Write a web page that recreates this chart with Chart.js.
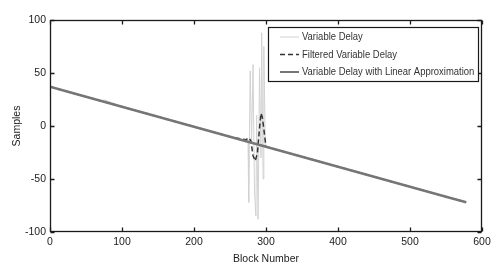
<!DOCTYPE html>
<html>
<head>
<meta charset="utf-8">
<script src="https://cdn.jsdelivr.net/npm/chart.js@4.4.0/dist/chart.umd.min.js"></script>
<style>
  html, body { margin: 0; padding: 0; background: #fff; }
</style>
</head>
<body>
<canvas id="chart" width="502" height="266"></canvas>
<script>
// tick labels
const xTickValues = [0, 100, 200, 300, 400, 500, 600];
const yTickValues = [-100, -50, 0, 50, 100];

// Variable Delay with Linear Approximation
const linBlocks = [0, 25, 50, 75, 100, 125, 150, 175, 200, 225, 250, 275, 300, 325, 350, 375, 400, 425, 450, 475, 500, 525, 550, 578];
const linDelay = [37, 32.3, 27.6, 22.9, 18.1, 13.4, 8.7, 4.0, -0.7, -5.4, -10.1, -14.9, -19.6, -24.3, -29.0, -33.7, -38.4, -43.1, -47.9, -52.6, -57.3, -62.0, -66.7, -72.0];

// Variable Delay (raw)
const varBlocks = [0, 25, 50, 72, 76, 100, 150, 200, 250, 270, 275, 276, 278, 280, 282, 284, 286, 287, 289, 291, 293, 294, 296, 297, 299, 300, 350, 400, 450, 500, 550, 578];
const varDelay = [37, 32.3, 27.6, 23.8, 24.6, 18.1, 8.7, -0.7, -10.1, -13.8, -14, -72, 52, -14, 58, -62, -85, 10, -88, 55, -30, 88, -50, 75, -18, -19.6, -29.0, -38.4, -47.9, -57.3, -66.7, -72.0];

// Filtered Variable Delay
const filtBlocks = [0, 100, 200, 250, 272, 276, 279, 282, 285, 288, 291, 293, 295, 297, 300, 400, 500, 578];
const filtDelay = [37, 18.1, -0.7, -10.1, -13, -11, -14, -28, -33, -26, -2, 12, 8, -3, -19.6, -38.4, -57.3, -72];

const toPoints = (xs, ys) => xs.map((x, i) => ({ x: x, y: ys[i] }));

const FONT = "'Liberation Sans', Arial, sans-serif";
Chart.defaults.font.family = FONT;
Chart.defaults.color = '#222';

// MATLAB style box with inward ticks, then the boxed legend on top
const frameAndLegend = {
  id: 'frameAndLegend',
  afterDraw(chart) {
    const { ctx, chartArea: a } = chart;
    const L = Math.round(a.left) + 0.5, R = Math.round(a.right) - 0.5;
    const T = Math.round(a.top) + 0.5, B = Math.round(a.bottom) - 0.5;
    ctx.save();
    ctx.strokeStyle = '#1a1a1a';
    ctx.lineWidth = 1.3;
    ctx.strokeRect(L, T, R - L, B - T);
    ctx.beginPath();
    xTickValues.forEach(v => {
      const px = Math.round(chart.scales.x.getPixelForValue(v)) + 0.5;
      ctx.moveTo(px, B); ctx.lineTo(px, B - 4);
      ctx.moveTo(px, T); ctx.lineTo(px, T + 4);
    });
    yTickValues.forEach(v => {
      const py = Math.round(chart.scales.y.getPixelForValue(v)) + 0.5;
      ctx.moveTo(L, py); ctx.lineTo(L + 4, py);
      ctx.moveTo(R, py); ctx.lineTo(R - 4, py);
    });
    ctx.stroke();

    // legend
    const w = 210, h = 54;
    const x0 = a.right - 214, y0 = a.top + 7;
    ctx.fillStyle = '#fff';
    ctx.fillRect(x0, y0, w, h);
    ctx.lineWidth = 1.2;
    ctx.strokeRect(x0 + 0.5, y0 + 0.5, w, h);
    ctx.font = '11px ' + FONT;
    ctx.textBaseline = 'middle';
    chart.data.datasets.forEach((ds, i) => {
      const y = y0 + 10 + i * 17.5;
      ctx.strokeStyle = ds.borderColor;
      ctx.lineWidth = Math.min(ds.borderWidth, 2);
      ctx.setLineDash(ds.borderDash || []);
      ctx.beginPath();
      ctx.moveTo(x0 + 12, y);
      ctx.lineTo(x0 + 31, y);
      ctx.stroke();
      ctx.setLineDash([]);
      ctx.fillStyle = '#333';
      const tw = ctx.measureText(ds.label).width;
      ctx.fillText(ds.label, x0 + 34, y, tw * 0.86);
    });
    ctx.restore();
  }
};

new Chart(document.getElementById('chart').getContext('2d'), {
  type: 'line',
  data: {
    datasets: [
      {
        label: 'Variable Delay',
        data: toPoints(varBlocks, varDelay),
        borderColor: '#d2d2d2',
        borderWidth: 1,
        pointRadius: 0,
        order: 3
      },
      {
        label: 'Filtered Variable Delay',
        data: toPoints(filtBlocks, filtDelay),
        borderColor: '#333',
        borderWidth: 1.5,
        borderDash: [5, 3],
        pointRadius: 0,
        order: 2
      },
      {
        label: 'Variable Delay with Linear Approximation',
        data: toPoints(linBlocks, linDelay),
        borderColor: '#767676',
        borderWidth: 2.5,
        pointRadius: 0,
        order: 1
      }
    ]
  },
  options: {
    responsive: false,
    animation: false,
    layout: { padding: { top: 20, right: 20, left: 0, bottom: 0 } },
    plugins: {
      legend: { display: false },
      tooltip: { enabled: false }
    },
    scales: {
      x: {
        type: 'linear',
        min: 0,
        max: 600,
        grid: { display: false, drawTicks: false },
        border: { display: false },
        afterBuildTicks: s => { s.ticks = xTickValues.map(v => ({ value: v })); },
        afterFit: s => { s.height = 34; },
        ticks: { padding: 4, font: { size: 10.5 }, maxRotation: 0 },
        title: { display: true, text: 'Block Number', font: { size: 10.5 }, padding: { top: 0, bottom: 1 } }
      },
      y: {
        min: -100,
        max: 100,
        grid: { display: false, drawTicks: false },
        border: { display: false },
        afterBuildTicks: s => { s.ticks = yTickValues.map(v => ({ value: v })); },
        afterFit: s => { s.width = 50; },
        ticks: { padding: 4, font: { size: 10.5 } },
        title: { display: true, text: 'Samples', font: { size: 10.5 }, padding: { top: 11, bottom: 0 } }
      }
    }
  },
  plugins: [frameAndLegend]
});
</script>
</body>
</html>
